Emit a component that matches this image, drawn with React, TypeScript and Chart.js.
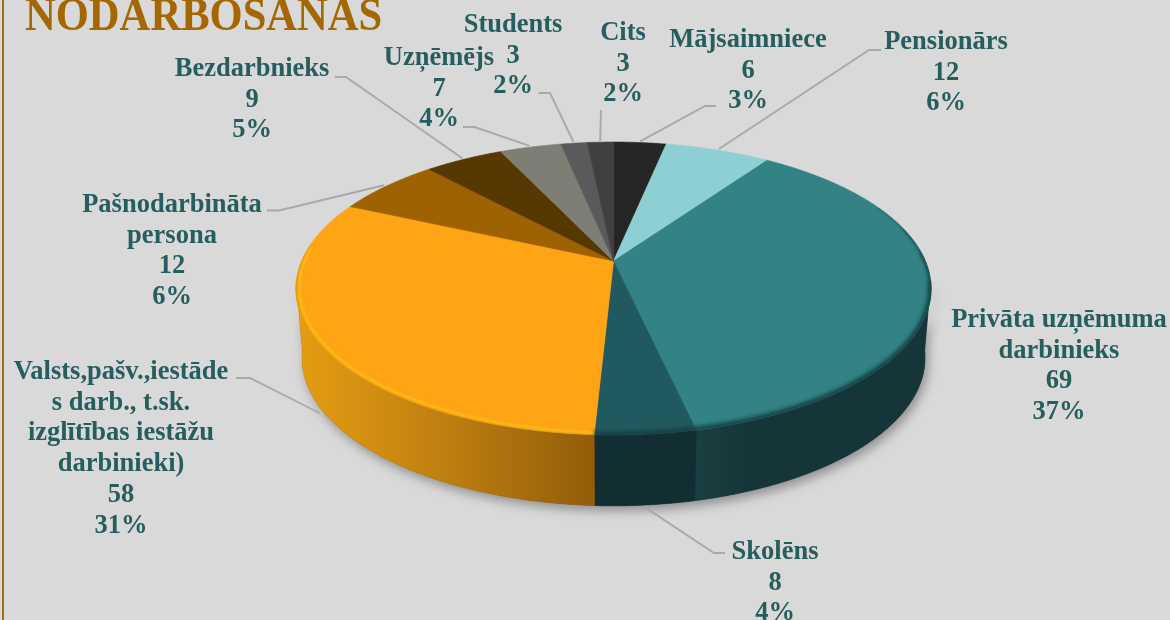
import React, { useEffect, useRef } from "react";
import { Chart, registerables } from "chart.js";

Chart.register(...registerables);

const categories = ["Mājsaimniece", "Pensionārs", "Privāta uzņēmuma darbinieks", "Skolēns", "Valsts,pašv.,iestādes darb., t.sk. izglītības iestāžu darbinieki)", "Pašnodarbināta persona", "Bezdarbnieks", "Uzņēmējs", "Students", "Cits"];
const values = [6, 12, 69, 8, 58, 12, 9, 7, 3, 3];
const percents = ["3%", "6%", "37%", "4%", "31%", "6%", "5%", "4%", "2%", "2%"];
const sliceColors = ["#262626", "#8DCFD2", "#338284", "#215A5E", "#FEA415", "#9E6200", "#573800", "#7E7E74", "#5A5A5C", "#404040"];
const labelLines = [["Mājsaimniece"], ["Pensionārs"], ["Privāta uzņēmuma", "darbinieks"], ["Skolēns"], ["Valsts,pašv.,iestāde", "s darb., t.sk.", "izglītības iestāžu", "darbinieki)"], ["Pašnodarbināta", "persona"], ["Bezdarbnieks"], ["Uzņēmējs"], ["Students"], ["Cits"]];
const title = "NODARBOŠANĀS";

// label layout: centre x, first line centre y
const labelPos = [[748, 40], [946, 42], [1059, 320], [775, 552], [121, 372], [172, 205], [252, 69], [439, 58], [513, 25], [623, 33]];
// leader elbows: [end near label x, elbow x, elbow y]; null = no leader
const leaders: (number[] | null)[] = [[716, 705, 106], [881, 869, 50], null, [725, 714, 553], [236, 250, 378], [267, 279, 210.5], [335, 346, 77], [463, 474.5, 127], [538.5, 550, 93], [601, 601, 110]];

const K = 0.1877;
const TOP = { cx: 613.5, cy: 261, rx: 312, ry: 141.3 };
const BOT = { cx: 613.5, cy: 330, rx: 306, ry: 142.8 };
type Ring = typeof TOP;
const proj = (r: Ring, th: number, f = 1) => {
  const w = 1 + K * f * Math.cos(th);
  return [r.cx + (r.rx * f * Math.sin(th)) / w, r.cy - (r.ry * f * Math.cos(th)) / w];
};
const rimPts = (r: Ring, a: number, b: number) => {
  const n = Math.max(2, Math.ceil(Math.abs(b - a) / 0.01));
  const out: number[][] = [];
  for (let i = 0; i <= n; i++) out.push(proj(r, a + ((b - a) * i) / n));
  return out;
};
const trace = (ctx: CanvasRenderingContext2D, pts: number[][], move = true) => {
  pts.forEach((p, i) => (i === 0 && move ? ctx.moveTo(p[0], p[1]) : ctx.lineTo(p[0], p[1])));
};
const deg = (d: number) => (d * Math.PI) / 180;

const pie3d = {
  id: "pie3d",
  beforeDatasetDraw(chart: any) {
    const ctx: CanvasRenderingContext2D = chart.ctx;
    const arcs = chart.getDatasetMeta(0).data;
    const th = (a: number) => a + Math.PI / 2;
    const FRONT_A = deg(98);
    const FRONT_B = deg(262);

    // soft shadow under the disc
    ctx.save();
    ctx.shadowColor = "rgba(0,0,0,0.34)";
    ctx.shadowBlur = 11;
    ctx.shadowOffsetX = 3;
    ctx.shadowOffsetY = 5;
    ctx.fillStyle = "#444";
    ctx.beginPath();
    trace(ctx, rimPts(BOT, FRONT_A, FRONT_B));
    trace(ctx, rimPts(TOP, FRONT_B, FRONT_A), false);
    ctx.closePath();
    ctx.fill();
    ctx.restore();

    // side wall
    const sideFill = (i: number) => {
      if (i === 4) {
        const g = ctx.createLinearGradient(300, 0, 596, 0);
        g.addColorStop(0, "#E49C12");
        g.addColorStop(0.5, "#BE7F10");
        g.addColorStop(1, "#925C08");
        return g;
      }
      if (i === 2) {
        const g = ctx.createLinearGradient(695, 0, 750, 0);
        g.addColorStop(0, "#1A3F42");
        g.addColorStop(1, "#163538");
        return g;
      }
      if (i === 3) return "#122E32";
      return "#111";
    };
    arcs.forEach((arc: any, i: number) => {
      const a = Math.max(th(arc.startAngle), FRONT_A);
      const b = Math.min(th(arc.endAngle), FRONT_B);
      if (b <= a) return;
      ctx.beginPath();
      trace(ctx, rimPts(TOP, a, b));
      trace(ctx, rimPts(BOT, b, a), false);
      ctx.closePath();
      const f = sideFill(i);
      ctx.fillStyle = f;
      ctx.strokeStyle = f;
      ctx.lineWidth = 0.6;
      ctx.fill();
      ctx.stroke();
    });

    // top surface
    arcs.forEach((arc: any) => {
      ctx.beginPath();
      ctx.moveTo(TOP.cx, TOP.cy);
      trace(ctx, rimPts(TOP, th(arc.startAngle), th(arc.endAngle)), false);
      ctx.closePath();
      ctx.fillStyle = arc.options.backgroundColor;
      ctx.strokeStyle = arc.options.backgroundColor;
      ctx.lineWidth = 0.6;
      ctx.fill();
      ctx.stroke();
    });

    // bevel along the front of the rim
    const bevel = [
      { from: 66, to: 168, colour: "rgba(23,70,74,0.45)", width: 2, blur: 1 },
      { from: 76, to: 168, colour: "rgba(23,70,74,0.5)", width: 3.5, blur: 1.4 },
      { from: 86, to: 168, colour: "rgba(23,70,74,0.6)", width: 5, blur: 1.8 },
      { from: 98, to: 168, colour: "rgba(23,70,74,0.7)", width: 7, blur: 2 },
      { from: 168, to: 183, colour: "#163F43", width: 7, blur: 2 },
      { from: 183, to: 276, colour: "#E0920E", width: 3, blur: 0.8 },
      { from: 183, to: 276, colour: "#FFBE18", width: 2.5, blur: 1.1, f: 0.99 },
    ];
    ctx.save();
    ctx.beginPath();
    trace(ctx, rimPts(TOP, 0, Math.PI * 2));
    ctx.closePath();
    ctx.clip();
    bevel.forEach((b: any) => {
      ctx.save();
      ctx.filter = `blur(${b.blur}px)`;
      ctx.strokeStyle = b.colour;
      ctx.lineWidth = b.width;
      ctx.beginPath();
      const n = 200;
      for (let k = 0; k <= n; k++) {
        const p = proj(TOP, deg(b.from + ((b.to - b.from) * k) / n), b.f ?? 1);
        k === 0 ? ctx.moveTo(p[0], p[1]) : ctx.lineTo(p[0], p[1]);
      }
      ctx.stroke();
      ctx.restore();
    });
    ctx.restore();

    return false;
  },
  afterDatasetsDraw(chart: any) {
    const ctx: CanvasRenderingContext2D = chart.ctx;
    const arcs = chart.getDatasetMeta(0).data;

    // frame line and title
    ctx.fillStyle = "#A86C10";
    ctx.fillRect(2, 0, 2, 620);
    ctx.fillStyle = "#A56800";
    ctx.font = "bold 47px 'Liberation Serif'";
    ctx.textAlign = "left";
    ctx.textBaseline = "alphabetic";
    ctx.save();
    ctx.translate(25, 30);
    ctx.scale(0.906, 1);
    ctx.fillText(title, 0, 0);
    ctx.restore();

    // leader lines
    ctx.strokeStyle = "#A9A9A9";
    ctx.lineWidth = 1.9;
    arcs.forEach((arc: any, i: number) => {
      const l = leaders[i];
      if (!l) return;
      const t = (arc.startAngle + arc.endAngle) / 2 + Math.PI / 2;
      const front = t > Math.PI / 2 && t < (3 * Math.PI) / 2;
      const anchor = front ? proj(BOT, t, 1.012) : proj(TOP, t, 1.012);
      ctx.beginPath();
      ctx.moveTo(l[0], l[2]);
      ctx.lineTo(l[1], l[2]);
      ctx.lineTo(anchor[0], anchor[1]);
      ctx.stroke();
    });

    // labels
    ctx.fillStyle = "#265D5E";
    ctx.font = "bold 26.5px 'Liberation Serif'";
    ctx.textAlign = "center";
    ctx.textBaseline = "middle";
    categories.forEach((_, i) => {
      const lines = [...labelLines[i], String(values[i]), percents[i]];
      lines.forEach((t, j) => ctx.fillText(t, labelPos[i][0], labelPos[i][1] + j * 30.8));
    });
  },
};

export default function App() {
  const ref = useRef<HTMLCanvasElement>(null);
  useEffect(() => {
    const chart = new Chart(ref.current!, {
      type: "pie",
      data: { labels: categories, datasets: [{ data: values, backgroundColor: sliceColors, borderWidth: 0 }] },
      options: {
        animation: false,
        responsive: false,
        plugins: { legend: { display: false }, tooltip: { enabled: false } },
      },
      plugins: [pie3d],
    } as any);
    return () => chart.destroy();
  }, []);
  return (
    <div style={{ position: "fixed", left: 0, top: 0, width: 1170, height: 620, background: "#D9D9D9", overflow: "hidden" }}>
      <canvas ref={ref} width={1170} height={620} style={{ display: "block" }} />
    </div>
  );
}
